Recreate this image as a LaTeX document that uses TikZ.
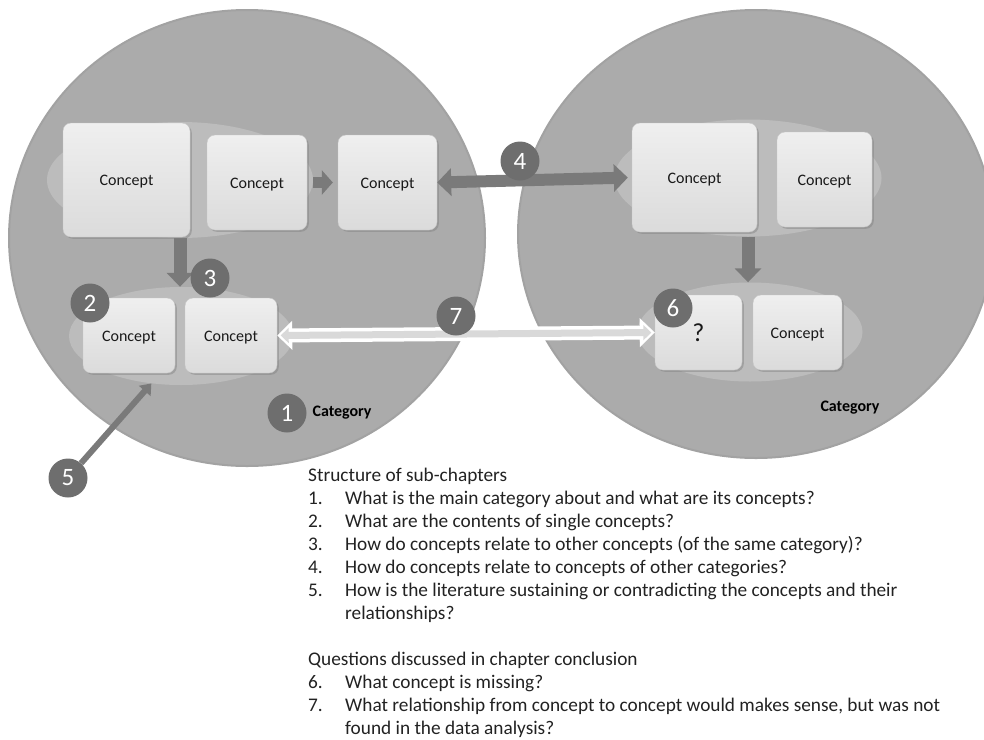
\documentclass[tikz,border=0pt]{standalone}
\usepackage{fontspec}
\setmainfont{Carlito}
\usetikzlibrary{arrows.meta,shadows,shapes.geometric}

\definecolor{catfill}{HTML}{ABABAB}
\definecolor{catedge}{HTML}{A2A2A2}
\definecolor{groupfill}{HTML}{BCBCBC}
\definecolor{boxtop}{HTML}{EFEFEF}
\definecolor{boxbot}{HTML}{DBDBDB}
\definecolor{arrowgray}{HTML}{7A7A7A}
\definecolor{badgefill}{HTML}{6E6E6E}
\definecolor{linkfill}{HTML}{D9D9D9}
\definecolor{bodytext}{HTML}{222222}

\begin{document}
\begin{tikzpicture}[x=1pt,y=-1pt,
  category/.style={ellipse, fill=catfill, draw=catedge, line width=2pt, inner sep=0pt},
  group/.style={ellipse, fill=groupfill, inner sep=0pt},
  concept/.style={rectangle, rounded corners=8pt, top color=boxtop, bottom color=boxbot,
    draw=black!22, line width=0.4pt, inner sep=0pt, text=black!90,
    text height=11pt, text depth=0pt,
    font=\fontsize{16}{18}\selectfont,
    drop shadow={shadow xshift=1.8pt, shadow yshift=-1.8pt, opacity=0.45}},
  badge/.style={circle, fill=badgefill, minimum size=39pt, inner sep=0pt, text=white,
    font=\fontsize{25}{25}\selectfont},
  catlabel/.style={font=\bfseries\fontsize{16}{18}\selectfont, text=black},
  blockarrow/.style={draw=arrowgray, line width=13pt,
    -{Triangle[width=26pt,length=14pt]}},
  twoway/.style={draw=arrowgray, line width=12pt,
    {Triangle[width=27pt,length=14pt]}-{Triangle[width=27pt,length=14pt]}},
  thinarrow/.style={draw=arrowgray, line width=6pt,
    -{Triangle[width=15pt,length=10pt]}},
  linkouter/.style={draw=white, line width=14pt,
    {Triangle[width=28pt,length=15pt]}-{Triangle[width=28pt,length=15pt]}},
  linkinner/.style={draw=linkfill, line width=7pt, shorten <=3.5pt, shorten >=3.5pt,
    {Triangle[width=15pt,length=8pt]}-{Triangle[width=15pt,length=8pt]}},
  listnum/.style={anchor=base west, inner sep=0pt, text=bodytext,
    font=\fontsize{19.3}{23}\selectfont},
  listtext/.style={anchor=base west, inner sep=0pt, text=bodytext,
    font=\fontsize{19.3}{23}\selectfont}
]
\clip (0,0) rectangle (984,739);

% the two categories
\node[category, minimum width=476pt, minimum height=456pt] (catL) at (247,238) {};
\node[category, minimum width=476pt, minimum height=448pt] (catR) at (756,234) {};

% concept groups
\node[group, minimum width=266pt, minimum height=116pt] (grpLtop) at (180,180) {};
\node[group, minimum width=224pt, minimum height=98pt]  (grpLbot) at (181,336) {};
\node[group, minimum width=267pt, minimum height=117pt] (grpRtop) at (748,178) {};
\node[group, minimum width=225pt, minimum height=99pt]  (grpRbot) at (750,332) {};

% relations inside the categories
\draw[blockarrow] (grpLtop.south) -- (grpLtop.south |- grpLbot.north);
\draw[blockarrow] (grpRtop.south) -- (grpRtop.south |- grpRbot.north);

% concepts, left category
\node[concept, minimum width=127pt, minimum height=114pt] (cA) at (126.5,180) {Concept};
\node[concept, minimum width=100pt, minimum height=95pt]  (cB) at (257,182.5) {Concept};
\node[concept, minimum width=99pt,  minimum height=95pt]  (cC) at (387.5,182.5) {Concept};
\node[concept, minimum width=92pt,  minimum height=75pt]  (cD) at (129,335.5) {Concept};
\node[concept, minimum width=92pt,  minimum height=75pt]  (cE) at (231,335.5) {Concept};

% concepts, right category
\node[concept, minimum width=125pt, minimum height=109pt] (cF) at (694.5,177.5) {Concept};
\node[concept, minimum width=95pt,  minimum height=95pt]  (cG) at (824.5,179.5) {Concept};
\node[concept, minimum width=87pt,  minimum height=75pt, text height=17pt,
  font=\fontsize{26}{28}\selectfont] (cQ) at (698.5,332.5) {?};
\node[concept, minimum width=89pt,  minimum height=75pt]  (cH) at (797.5,332.5) {Concept};

% relations between concepts
\draw[blockarrow, line width=11pt, -{Triangle[width=24pt,length=11pt]},
  shorten <=6pt, shorten >=5pt] (cB.east) -- (cC.west);
\draw[twoway, shorten >=4pt] (cC.east) -- (cF.west);
\draw[linkouter] (cE.east) -- (cQ.west);
\draw[linkinner] (cE.east) -- (cQ.west);

% category labels
\node[catlabel, anchor=west] (lblL) at (309,413) {Category};
\node[catlabel] (lblR) at (850,408) {Category};

% numbered markers
\node[badge] (b1) at (287,413) {1};
\node[badge] (b2) at (90,303) {2};
\node[badge] (b3) at (210,278) {3};
\node[badge] (b4) at (520,161) {4};
\node[badge] (b5) at (68,478) {5};
\node[badge] (b6) at (673,308) {6};
\node[badge] (b7) at (456,316) {7};

\draw[thinarrow] (b5) -- (grpLbot.238);

% legend
\node[listtext] (hdA) at (308,481) {Structure of sub-chapters};
\node[listnum] (n1) at (308,504) {1.};
\node[listtext] (t1) at (345,504) {What is the main category about and what are its concepts?};
\node[listnum] (n2) at (308,527) {2.};
\node[listtext] (t2) at (345,527) {What are the contents of single concepts?};
\node[listnum] (n3) at (308,550) {3.};
\node[listtext] (t3) at (345,550) {How do concepts relate to other concepts (of the same category)?};
\node[listnum] (n4) at (308,573) {4.};
\node[listtext] (t4) at (345,573) {How do concepts relate to concepts of other categories?};
\node[listnum] (n5) at (308,596) {5.};
\node[listtext] (t5) at (345,596) {How is the literature sustaining or contradicting the concepts and their};
\node[listtext] (t5b) at (345,619) {relationships?};

\node[listtext] (hdB) at (308,665) {Questions discussed in chapter conclusion};
\node[listnum] (n6) at (308,688) {6.};
\node[listtext] (t6) at (345,688) {What concept is missing?};
\node[listnum] (n7) at (308,711) {7.};
\node[listtext] (t7) at (345,711) {What relationship from concept to concept would makes sense, but was not};
\node[listtext] (t7b) at (345,734) {found in the data analysis?};
\end{tikzpicture}
\end{document}
